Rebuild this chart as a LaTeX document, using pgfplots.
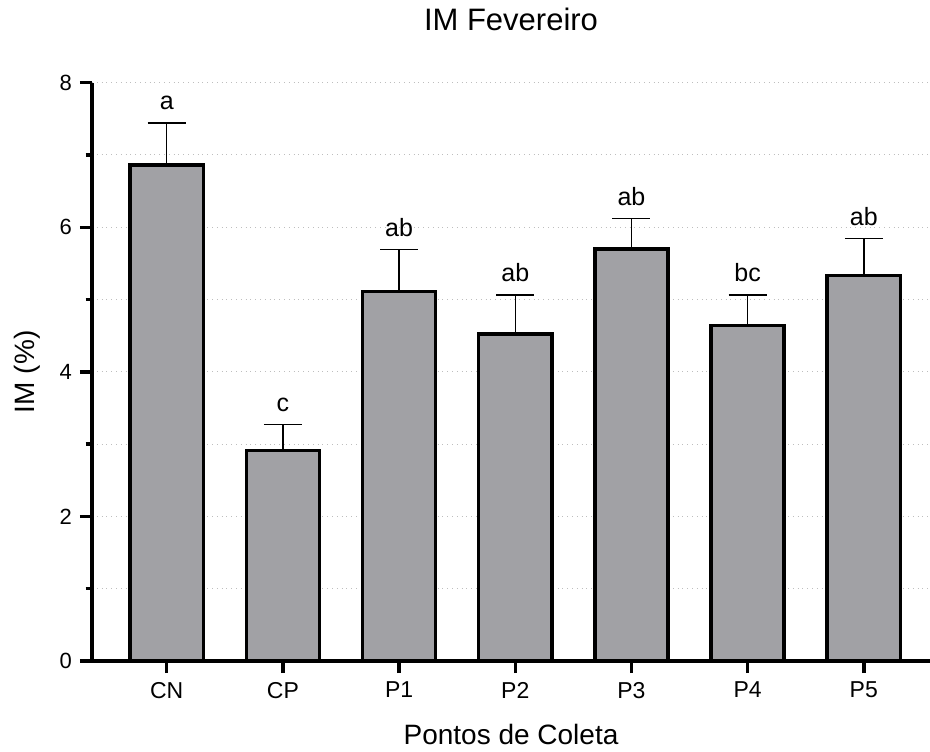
\documentclass[border=0pt]{standalone}
\usepackage{pgfplots}
\pgfplotsset{compat=1.18}
\usepackage{fontspec}
\setmainfont{Liberation Sans}

\definecolor{barfill}{RGB}{161,161,165}
\definecolor{gridgray}{RGB}{190,190,190}

\begin{document}
\begin{tikzpicture}
\useasboundingbox (0,0) rectangle (465pt,375.5pt);
\begin{axis}[
  at={(46pt,45pt)}, anchor=south west,
  scale only axis,
  width=419pt, height=289.2pt,
  xmin=-0.643, xmax=6.57,
  ymin=0, ymax=8,
  axis x line*=bottom, axis y line*=left,
  x axis line style={-, line width=2.1pt},
  y axis line style={-, line width=2.1pt},
  xtick={0,...,6},
  xticklabels={CN,CP,P1,P2,P3,P4,P5},
  ytick={0,2,4,6,8},
  minor ytick={1,3,5,7},
  tick align=outside,
  major tick length=6pt,
  minor tick length=3.2pt,
  every tick/.style={black, line width=1.7pt},
  ymajorgrids, yminorgrids,
  major grid style={dotted, gridgray, line width=0.5pt},
  minor grid style={dotted, gridgray, line width=0.5pt},
  /pgf/number format/assume math mode=true,
  xticklabel style={font=\fontsize{11.5}{13}\selectfont, yshift=-1pt},
  yticklabel style={font=\fontsize{11}{13}\selectfont, xshift=-0.5pt},
  title={IM Fevereiro},
  title style={font=\fontsize{15.5}{18}\selectfont, at={(axis description cs:0.5,1.0687)}, anchor=base},
  xlabel={Pontos de Coleta},
  xlabel style={font=\fontsize{14}{16}\selectfont, at={(axis description cs:0.5,-0.145)}, anchor=base},
  ylabel={IM (\%)},
  ylabel style={font=\fontsize{14}{16}\selectfont, at={(axis description cs:-0.0776,0.5)}, anchor=center},
  ybar, bar shift=0pt, bar width=0.63,
  clip=false,
]
% mean values with the upper error (standard error)
\addplot[
  ybar, fill=barfill, draw=black, line width=1.75pt,
  error bars/.cd, y dir=plus, y explicit,
  error bar style={line width=0.7pt, black},
  error mark options={rotate=90, mark size=9.5pt, line width=0.7pt, black},
] coordinates {
  (0,6.86) +- (0,0.58)
  (1,2.91) +- (0,0.36)
  (2,5.11) +- (0,0.58)
  (3,4.52) +- (0,0.54)
  (4,5.70) +- (0,0.42)
  (5,4.64) +- (0,0.42)
  (6,5.33) +- (0,0.51)
};
% group letters above each error cap
\addplot[
  ybar, draw=none, fill=none, bar width=0.01,
  point meta=explicit symbolic,
  nodes near coords,
  every node near coord/.append style={font=\fontsize{12.5}{14}\selectfont, anchor=south, inner sep=0pt, yshift=6.3pt, black},
] coordinates {
  (0,7.44) [a]
  (1,3.27) [c]
  (2,5.69) [ab]
  (3,5.06) [ab]
  (4,6.12) [ab]
  (5,5.06) [bc]
  (6,5.84) [ab]
};
\end{axis}
\end{tikzpicture}
\end{document}
